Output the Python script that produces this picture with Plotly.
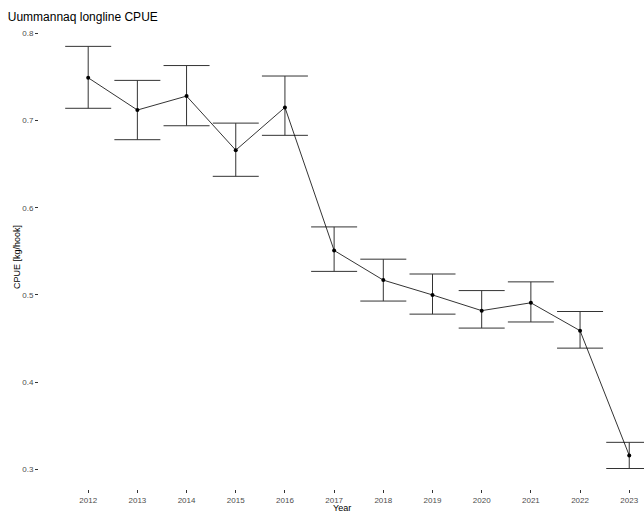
import plotly.graph_objects as go

# Annual CPUE estimates for the Uummannaq longline fishery, with confidence bounds
years = [2012, 2013, 2014, 2015, 2016, 2017, 2018, 2019, 2020, 2021, 2022, 2023]
cpue = [0.749, 0.712, 0.728, 0.666, 0.715, 0.551, 0.517, 0.500, 0.482, 0.491, 0.459, 0.316]
upper = [0.785, 0.746, 0.763, 0.697, 0.751, 0.578, 0.541, 0.524, 0.505, 0.515, 0.481, 0.331]
lower = [0.714, 0.678, 0.694, 0.636, 0.683, 0.527, 0.493, 0.478, 0.462, 0.469, 0.439, 0.301]

y_ticks = [0.3, 0.4, 0.5, 0.6, 0.7, 0.8]

err_plus = [u - c for u, c in zip(upper, cpue)]
err_minus = [c - l for c, l in zip(cpue, lower)]

fig = go.Figure()
fig.add_trace(go.Scatter(
    x=years, y=cpue,
    mode="lines+markers",
    line=dict(color="black", width=0.8),
    marker=dict(color="black", size=4),
    error_y=dict(type="data", symmetric=False, array=err_plus, arrayminus=err_minus,
                 color="#333333", thickness=1, width=23),
    showlegend=False,
))

tick_font = dict(family="Liberation Sans, Arial, sans-serif", size=8, color="#4d4d4d")
fig.update_layout(
    width=644, height=513,
    margin=dict(l=39, r=0, t=25, b=24),
    paper_bgcolor="white", plot_bgcolor="white",
    font=dict(family="Liberation Sans, Arial, sans-serif", color="black"),
    title=dict(text="Uummannaq longline CPUE", x=0.012, xanchor="left",
               y=0.968, yanchor="middle", font=dict(size=12, color="black")),
    xaxis=dict(range=[2011.0, 2023.3], tickvals=years, ticktext=[str(y) for y in years],
               showgrid=False, zeroline=False, showline=False, automargin=False,
               ticks="outside", ticklen=3, tickcolor="#333333", tickwidth=1,
               tickfont=tick_font),
    yaxis=dict(range=[0.2775, 0.8095], tickvals=y_ticks, ticktext=[f"{v:.1f}" for v in y_ticks],
               showgrid=False, zeroline=False, showline=False, automargin=False,
               ticks="outside", ticklen=3, tickcolor="#333333", tickwidth=1,
               tickfont=tick_font,
               title=dict(text="CPUE [kg/hook]", font=dict(size=9), standoff=0)),
    annotations=[dict(text="Year", xref="paper", yref="paper", x=0.5, y=-0.04,
                      xanchor="center", yanchor="middle", showarrow=False,
                      font=dict(size=9, color="black"))],
)

fig.write_html("out.html")
